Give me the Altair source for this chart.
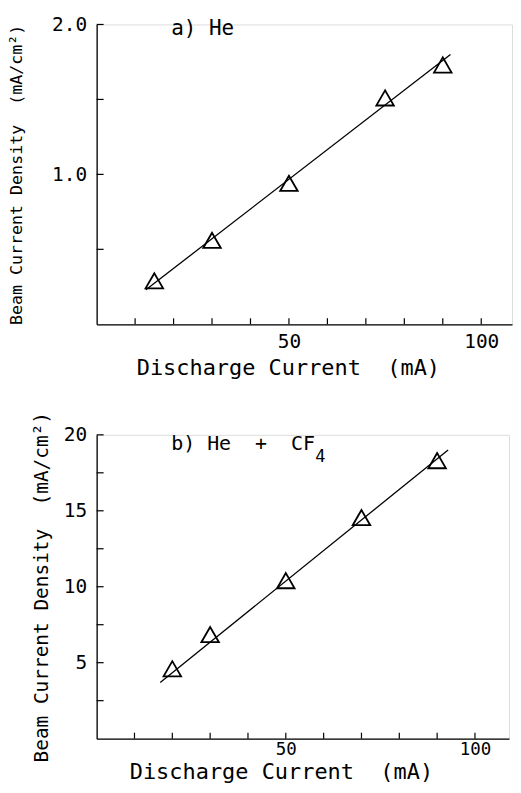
import altair as alt
import pandas as pd

# ---------------- data ----------------
# a) He
a_current = [15, 30, 50, 75, 90]
a_density = [0.29, 0.56, 0.94, 1.51, 1.73]
a_fit_current = [12.8, 92.0]
a_fit_density = [0.23, 1.80]

# b) He + CF4
b_current = [20, 30, 50, 70, 90]
b_density = [4.6, 6.85, 10.4, 14.55, 18.3]
b_fit_current = [16.8, 92.9]
b_fit_density = [3.7, 19.0]

# axis ticks / labels
x_tick_values = [10, 20, 30, 40, 50, 60, 70, 80, 90, 100]
x_label_values = [50, 100]
a_y_tick_values = [0.5, 1.0, 1.5, 2.0]
a_y_label_values = [1.0, 2.0]
b_y_tick_values = [2.5, 5, 7.5, 10, 12.5, 15, 17.5, 20]
b_y_label_values = [5, 10, 15, 20]

NB = "\u00a0"
# panel annotations
a_label = {"x": [19.4], "y": [1.93], "t": ["a)" + NB + "He"]}
b_label = {"x": [19.7], "y": [19.0], "t": ["b)" + NB + "He" + NB * 2 + "+" + NB * 2 + "CF"]}
b_sub = {"x": [57.8], "y": [18.2], "t": ["4"]}

FONT = "DejaVu Sans Mono"
X_TITLE = "Discharge" + NB + "Current" + NB * 2 + "(mA)"
Y_TITLE = "Beam" + NB + "Current" + NB + "Density" + NB * 2 + "(mA/cm²)"


def panel(cur, dens, fit_x, fit_y, x_max, y_dom, y_ticks, y_labels, y_fmt,
          W, H, ytitle_size, ytitle_pad, xlabel_size, xlabel_pad,
          xtitle_size, xtitle_x, xtitle_y, texts):
    xs = alt.Scale(domain=[0, x_max], nice=False, zero=False)
    ys = alt.Scale(domain=y_dom, nice=False, zero=False)
    pts = pd.DataFrame({"x": cur, "y": dens})
    fit = pd.DataFrame({"x": fit_x, "y": fit_y})

    x_axis = alt.Axis(values=x_label_values, ticks=False, tickSize=0, grid=False,
                      labelFont=FONT, labelFontSize=xlabel_size,
                      labelPadding=xlabel_pad, labelColor="black",
                      title=X_TITLE, titleFont=FONT, titleFontSize=xtitle_size,
                      titleFontWeight="normal", titleColor="black",
                      titleX=xtitle_x, titleY=xtitle_y,
                      titleBaseline="alphabetic", domainColor="black",
                      domainWidth=1.3, labelFlush=False)
    y_axis = alt.Axis(values=y_labels, format=y_fmt, ticks=False, tickSize=0,
                      grid=False, labelFont=FONT, labelFontSize=19.5,
                      labelPadding=10, labelColor="black", title=Y_TITLE,
                      titleFont=FONT, titleFontSize=ytitle_size,
                      titleFontWeight="normal", titleColor="black",
                      titlePadding=ytitle_pad, domainColor="black",
                      domainWidth=1.3, labelFlush=False)

    line = alt.Chart(fit).mark_line(color="black", strokeWidth=1.3).encode(
        x=alt.X("x:Q", scale=xs, axis=x_axis),
        y=alt.Y("y:Q", scale=ys, axis=y_axis),
    )
    marks = alt.Chart(pts).mark_point(
        shape="triangle-up", size=310, filled=False, color="black",
        strokeWidth=1.8, opacity=1
    ).encode(x="x:Q", y="y:Q")

    xt = alt.Chart(pd.DataFrame({"x": x_tick_values})).mark_rule(
        color="black", strokeWidth=1.2
    ).encode(x="x:Q", y=alt.value(H), y2=alt.value(H - 6))
    yt = alt.Chart(pd.DataFrame({"y": y_ticks})).mark_rule(
        color="black", strokeWidth=1.2
    ).encode(y="y:Q", x=alt.value(0), x2=alt.value(7))

    layers = [line, marks, xt, yt]
    for d, size in texts:
        layers.append(
            alt.Chart(pd.DataFrame(d)).mark_text(
                font=FONT, fontSize=size, align="left", baseline="alphabetic",
                color="black"
            ).encode(x="x:Q", y="y:Q", text="t:N")
        )
    return alt.layer(*layers).properties(width=W, height=H)


pa = panel(a_current, a_density, a_fit_current, a_fit_density, 108, [0, 2.0],
           a_y_tick_values, a_y_label_values, ".1f", 417, 301, 16.7, 26,
           19.5, 8, 22, 192, 50, [(a_label, 21)])
pb = panel(b_current, b_density, b_fit_current, b_fit_density, 109, [0, 20],
           b_y_tick_values, b_y_label_values, "d", 414, 305, 19.5, 12,
           17.5, 2, 22, 185, 40, [(b_label, 20), (b_sub, 17)])

chart = alt.vconcat(pa, pb, spacing=111, bounds="flush").properties(
    padding={"left": 0, "top": 4, "right": 0, "bottom": -2}
).configure_view(stroke=None).configure(background="white")

chart.save("out.html", embed_options={"renderer": "svg", "actions": False})
